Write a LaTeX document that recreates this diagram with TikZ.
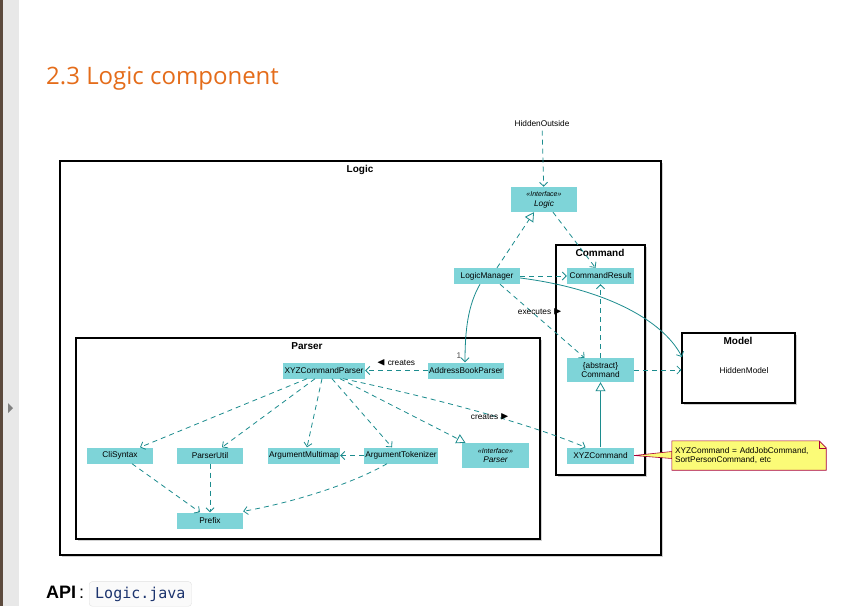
\documentclass[tikz,border=0pt]{standalone}
\usepackage{amssymb}
\usepackage{fontspec}
\setmainfont{Liberation Sans}
\setmonofont{DejaVu Sans Mono}
\newfontfamily\titlefont{Open Sans}
\usetikzlibrary{positioning, calc, arrows.meta}
\definecolor{clsfill}{RGB}{126,212,216}
\definecolor{clsline}{RGB}{28,140,142}
\definecolor{notefill}{RGB}{251,251,119}
\definecolor{noteline}{RGB}{168,0,54}
\definecolor{titleorange}{RGB}{228,108,26}
\definecolor{codeblue}{RGB}{28,52,110}
\definecolor{sidebrown}{RGB}{92,74,61}
\definecolor{sidegray}{RGB}{232,232,232}

\begin{document}
\begin{tikzpicture}[x=1pt,y=-1pt,font=\fontsize{8.3}{9.8}\selectfont]
	 \tikzstyle{cls}=[rectangle,fill=clsfill,minimum height=16pt,inner sep=1pt]
	 \tikzstyle{iface}=[cls,minimum height=25pt,align=center]
	 \tikzstyle{frame}=[draw,line width=1.2pt,black,fill=white]
	 \tikzstyle{shade}=[fill=black!18]
	 \tikzstyle{lbl}=[inner sep=1pt]
	 \tikzstyle{dep}=[draw,clsline,line width=0.8pt,dash pattern=on 5pt off 4pt,-{Straight Barb[length=4pt,width=8pt]}]
	 \tikzstyle{assoc}=[draw,clsline,line width=0.8pt,-{Straight Barb[length=4pt,width=8pt]}]
	 \tikzstyle{impl}=[draw,clsline,line width=0.8pt,dash pattern=on 5pt off 4pt,-{Triangle[open,length=9pt,width=10pt,fill=white]}]
	 \tikzstyle{gen}=[draw,clsline,line width=0.8pt,-{Triangle[open,length=9pt,width=10pt,fill=white]}]
	 \newcommand{\rtri}{{\fontsize{11}{11}\selectfont$\blacktriangleright$}}
	 \newcommand{\ltri}{{\fontsize{11}{11}\selectfont$\blacktriangleleft$}}
	 \useasboundingbox (0,0) rectangle (866,606);
	 % page around the figure
	 \fill[sidebrown] (0,0) rectangle (3,606);
	 \fill[sidegray] (3,0) rectangle (19,606);
	 \fill[black!50] (8,403) -- (13,408) -- (8,413) -- cycle;
	 \node[anchor=base west,inner sep=0pt,text=titleorange,font=\titlefont\fontsize{24}{28}\selectfont] (title) at (46,84) {2.3 Logic component};
	 \node[anchor=base west,inner sep=0pt,font=\fontsize{18}{20}\selectfont\bfseries] (api) at (46,598) {API};
	 \node[anchor=base west,inner sep=0pt,font=\fontsize{18}{20}\selectfont] (colon) at (79,598) {:};
	 \node[anchor=base west,draw=black!12,fill=black!2,rounded corners=3pt,inner xsep=6pt,inner ysep=5pt,text=codeblue,font=\ttfamily\fontsize{15}{16}\selectfont] (apicode) at (89,598) {Logic.java};
	 % frames
	 \fill[shade] (62,163) rectangle (663,557);
	 \draw[frame] (60,161) rectangle (661,555);
	 \node[font=\bfseries] (logictitle) at (360,170) {Logic};
	 \fill[shade] (558,247) rectangle (647,477);
	 \draw[frame] (556,245) rectangle (645,475);
	 \node[font=\bfseries] (commandtitle) at (600,253) {Command};
	 \fill[shade] (78,340) rectangle (542,541);
	 \draw[frame] (76,338) rectangle (540,539);
	 \node[font=\bfseries] (parsertitle) at (307,346) {Parser};
	 \fill[shade] (684,335) rectangle (797,405);
	 \node[frame,minimum width=113pt,minimum height=70pt,inner sep=0pt] (model) at (738.5,368) {};
	 \node[font=\bfseries] (modeltitle) at (738,341) {Model};
	 \node (hiddenmodel) at (744,371) {HiddenModel};
	 % classes
	 \node (hidden) at (542,124) {HiddenOutside};
	 \node[iface,minimum width=66pt] (ilogic) at (544,199.5) {{\fontsize{7}{7.5}\selectfont\itshape «Interface»}\\\itshape Logic};
	 \node[cls,minimum width=66pt] (lmgr) at (487,276) {LogicManager};
	 \node[cls,minimum width=67pt] (cmdres) at (600.5,276) {CommandResult};
	 \node[iface,minimum width=67pt,minimum height=24pt] (cmd) at (600.5,370) {\{abstract\}\\Command};
	 \node[cls,minimum width=67pt] (xyzcmd) at (600.5,455.5) {XYZCommand};
	 \node[cls,minimum width=82pt] (xyzparser) at (324,370.5) {XYZCommandParser};
	 \node[cls,minimum width=76pt] (abparser) at (466,370.5) {AddressBookParser};
	 \node[cls,minimum width=66pt] (clisyntax) at (120,455.5) {CliSyntax};
	 \node[cls,minimum width=66pt] (parserutil) at (210,455.5) {ParserUtil};
	 \node[cls,minimum width=72pt] (argmulti) at (304,455.5) {ArgumentMultimap};
	 \node[cls,minimum width=74pt] (argtok) at (401,455.5) {ArgumentTokenizer};
	 \node[iface,minimum width=67pt] (iparser) at (495.5,455.5) {{\fontsize{7}{7.5}\selectfont\itshape «Interface»}\\\itshape Parser};
	 \node[cls,minimum width=66pt] (prefix) at (210,520.5) {Prefix};
	 \coordinate (mdlin) at (682,357);
	 % note
	 \node[minimum width=154pt,minimum height=29pt,text width=148pt,align=left,inner sep=3pt] (note) at (749,455.5) {};
	 \draw[noteline,fill=notefill,line width=0.6pt] (xyzcmd.east) -- ([yshift=4pt]note.west) -- ([yshift=-3pt]note.west) -- cycle;
	 \draw[noteline,fill=notefill,line width=0.6pt] (note.north west) -- ([xshift=-7pt]note.north east) -- ([yshift=-7pt]note.north east) -- (note.south east) -- (note.south west) -- cycle;
	 \draw[noteline,line width=0.6pt] ([xshift=-7pt]note.north east) -- ([xshift=-7pt,yshift=-7pt]note.north east) -- ([yshift=-7pt]note.north east);
	 \node[text width=148pt,align=left,inner sep=0pt] (notetext) at (note) {XYZCommand = AddJobCommand,\\SortPersonCommand, etc};
	 % connectors
	 \draw[dep] (hidden) -- (ilogic);
	 \draw[impl] ([xshift=10pt]lmgr.north) -- ([xshift=-10pt]ilogic.south);
	 \draw[dep] ([xshift=9pt]ilogic.south) -- ([xshift=-5pt]cmdres.north);
	 \draw[dep] (lmgr) -- (cmdres);
	 \draw[assoc] ([yshift=-2pt]lmgr.east) .. controls (600,288) and (662,318) .. (mdlin);
	 \draw[assoc] ([xshift=-7pt]lmgr.south) .. controls (468,305) and (465,330) .. ([xshift=-1pt]abparser.north);
	 \node[lbl,text=black!70] (one) at (459,356) {1};
	 \draw[dep] ([xshift=13pt]lmgr.south) -- ([xshift=-16pt]cmd.north);
	 \node[lbl] (executes) at (540,312) {executes \rtri};
	 \draw[dep] (cmd) -- (cmdres);
	 \draw[dep] (cmd.east) -- (cmd.east -| model.west);
	 \draw[gen] (xyzcmd) -- (cmd);
	 \draw[dep] (abparser) -- (xyzparser);
	 \node[lbl] (creates1) at (396,363) {\ltri\ creates};
	 \draw[dep] ([xshift=-17pt]xyzparser.south) -- ([xshift=20pt]clisyntax.north);
	 \draw[dep] ([xshift=-9pt]xyzparser.south) -- ([xshift=12pt]parserutil.north);
	 \draw[dep] ([xshift=-2pt]xyzparser.south) -- ([xshift=3pt]argmulti.north);
	 \draw[dep] ([xshift=8pt]xyzparser.south) -- ([xshift=-9pt]argtok.north);
	 \draw[impl] ([xshift=16pt]xyzparser.south) -- ([xshift=-30pt]iparser.north);
	 \draw[dep] ([xshift=19pt]xyzparser.south) .. controls (420,395) and (520,420) .. ([xshift=-15pt]xyzcmd.north);
	 \node[lbl] (creates2) at (490,417) {creates \rtri};
	 \draw[dep] (argtok) -- (argmulti);
	 \draw[dep] ([xshift=12pt]clisyntax.south) -- ([xshift=-10pt]prefix.north);
	 \draw[dep] (parserutil) -- (prefix);
	 \draw[dep] ([xshift=-14pt]argtok.south) .. controls (350,485) and (290,503) .. ([yshift=1pt]prefix.north east);
 \end{tikzpicture}
\end{document}
